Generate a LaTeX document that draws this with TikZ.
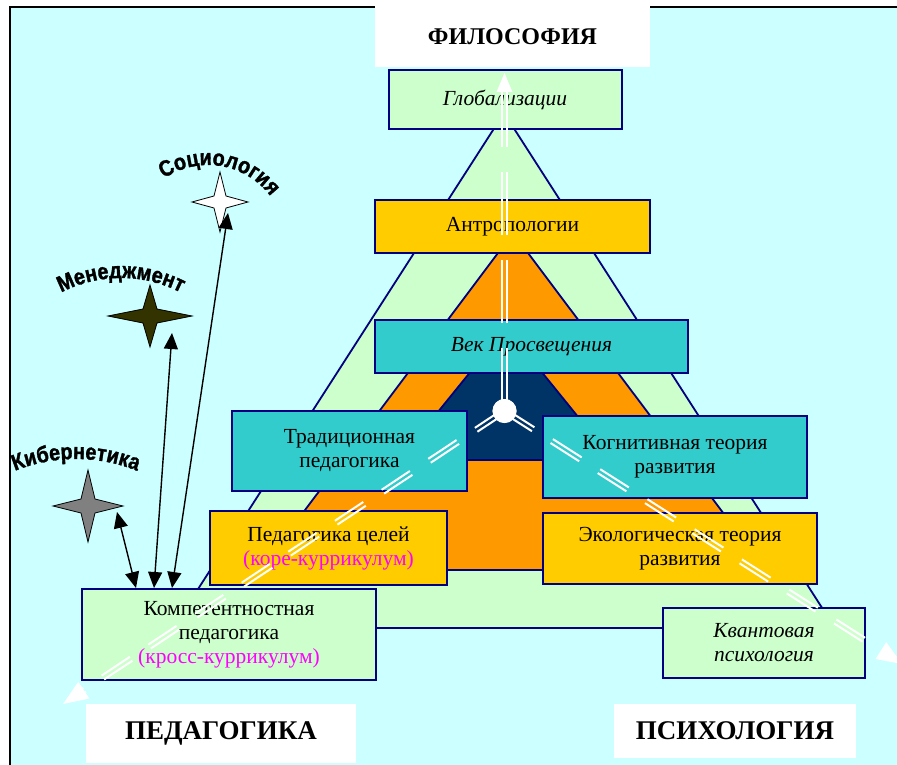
\documentclass[tikz,border=0pt]{standalone}
\usepackage{fontspec}
\setmainfont{Liberation Serif}
\newfontfamily\artfont[FakeBold=1.4, FakeStretch=0.88]{Liberation Sans}
\usetikzlibrary{calc,arrows.meta,decorations.text}

\definecolor{skyfon}{HTML}{CCFFFF}
\definecolor{lgreen}{HTML}{CCFFCC}
\definecolor{gold}{HTML}{FFCC00}
\definecolor{orng}{HTML}{FF9900}
\definecolor{tealbox}{HTML}{33CCCC}
\definecolor{deepnavy}{HTML}{003366}
\definecolor{rim}{HTML}{000080}
\definecolor{olivestar}{HTML}{333300}
\definecolor{pinktext}{HTML}{FF00FF}

\newcommand{\boxfont}{\fontsize{21.5}{24}\selectfont}
\newcommand{\tagfont}{\fontsize{27}{30}\selectfont\bfseries}
\newcommand{\artsize}{\artfont\bfseries\fontsize{22.5}{23}\selectfont}

% star with four points: centre, half width, half height, inner, fill
\newcommand{\fourstar}[5]{%
  \draw[star, fill=#5, shift={(#1)}] (0,-#3) -- (#4,-#4) -- (#2,0) -- (#4,#4)
    -- (0,#3) -- (-#4,#4) -- (-#2,0) -- (-#4,-#4) -- cycle;}
% white double line: from, to, dash pattern
\newcommand{\spoke}[3]{%
  \draw[spoke, dash pattern=#3] ($(#1)!2.3pt!90:(#2)$) -- ($(#2)!2.3pt!-90:(#1)$);
  \draw[spoke, dash pattern=#3] ($(#1)!2.3pt!-90:(#2)$) -- ($(#2)!2.3pt!90:(#1)$);}
% white head: tip, base, back point, half width
\newcommand{\spokehead}[4]{%
  \fill[white] (#1) -- ($(#2)!#4!90:(#3)$) -- ($(#2)!#4!-90:(#3)$) -- cycle;}

\begin{document}
\begin{tikzpicture}[x=1pt, y=-1pt,
  block/.style={draw=rim, line width=2pt, inner sep=0pt, align=center, font=\boxfont},
  tag/.style={fill=white, inner sep=0pt, font=\tagfont},
  layer/.style={draw=rim, line width=1.8pt, line join=round},
  spoke/.style={white, line width=2pt},
  star/.style={draw=black, line width=0.8pt, line join=miter},
  twohead/.style={black, line width=1.4pt, {Triangle[length=16pt,width=14pt]}-{Triangle[length=16pt,width=14pt]}},
  wordart/.style={decorate, decoration={text along path, text align=center, text={|\artsize|#1}}}]
\useasboundingbox (0,0) rectangle (897,765);
\clip (0,0) rectangle (897,765);
\fill[white] (0,0) rectangle (897,765);
\draw[black, line width=2pt, fill=skyfon] (10,7) rectangle (910,780);

% pyramid
\draw[layer, fill=lgreen] (504,113) -- (835,628) -- (173,628) -- cycle;
\draw[layer, fill=orng] (513,233) -- (766,570) -- (260,570) -- cycle;
\draw[layer, fill=deepnavy] (506,328) -- (613,460) -- (399,460) -- cycle;

% corner labels
\node[tag, minimum width=275, minimum height=61, font=\fontsize{24}{26}\selectfont\bfseries] (filo) at (512.5,37) {ФИЛОСОФИЯ};
\node[tag, minimum width=270, minimum height=59] (ped) at (221,733.5) {ПЕДАГОГИКА};
\node[tag, minimum width=242, minimum height=54] (psy) at (735,731) {ПСИХОЛОГИЯ};

% boxes
\node[block, fill=lgreen, minimum width=233, minimum height=59, font=\boxfont\itshape] (glob) at (505,99.5) {Глобализации};
\node[block, fill=gold, minimum width=275, minimum height=53] (antr) at (512.5,226.5) {Антропологии};
\node[block, fill=tealbox, minimum width=313, minimum height=53, font=\boxfont\itshape] (vek) at (531.5,346.5) {Век Просвещения};
\node[block, fill=tealbox, minimum width=235, minimum height=80] (trad) at (349.5,451) {Традиционная\\педагогика};
\node[block, fill=tealbox, minimum width=264, minimum height=82] (kogn) at (675,457) {Когнитивная теория\\развития};
\node[block, fill=gold, minimum width=237, minimum height=74] (cel) at (328.5,548) {Педагогика целей\\\textcolor{pinktext}{(коре-куррикулум)}};
\node[block, fill=gold, minimum width=274, minimum height=71] (ekol) at (680,548.5) {Экологическая теория\\развития};
\node[block, fill=lgreen, minimum width=294, minimum height=91] (komp) at (229,634.5) {Компетентностная\\педагогика\\\textcolor{pinktext}{(кросс-куррикулум)}};
\node[block, fill=lgreen, minimum width=202, minimum height=70, font=\boxfont\itshape] (kvant) at (764,643) {Квантовая\\психология};

% stars with their names
\coordinate (soc) at (220,202);
\coordinate (men) at (150,316);
\coordinate (kib) at (88,506);
\fourstar{soc}{28}{30}{6}{white}
\fourstar{men}{42}{31}{7}{olivestar}
\fourstar{kib}{35}{36}{7}{gray}
\coordinate (socarc) at (208,243);
\coordinate (menarc) at (121,408);
\coordinate (kibarc) at (76,622);
\path[wordart=Социология] ($(socarc)+(-150.5:78)$) arc[start angle=-150.5, end angle=-10.5, radius=78];
\path[wordart=Менеджмент] ($(menarc)+(-140:130)$) arc[start angle=-140, end angle=-40, radius=130];
\path[wordart=Кибернетика] ($(kibarc)+(-125:163)$) arc[start angle=-125, end angle=-55, radius=163];

\coordinate (kibend) at (117,512);
\coordinate (menend) at (172,333);
\coordinate (socend) at (228,213);
\draw[twohead] ([shift={(55,0)}]komp.north west) -- (kibend);
\draw[twohead] ([shift={(73,0)}]komp.north west) -- (menend);
\draw[twohead] ([shift={(91,0)}]komp.north west) -- (socend);

% white double arrows from the centre
\node[circle, fill=white, minimum size=24, inner sep=0pt] (hub) at (504.5,411) {};
\coordinate (tipF) at (504.5,73);
\coordinate (tipP) at (63,704);
\coordinate (tipS) at (902,664);
\coordinate (baseF) at ($(tipF)!19pt!(hub.center)$);
\coordinate (baseP) at ($(tipP)!25pt!(hub.center)$);
\coordinate (baseS) at ($(tipS)!25pt!(hub.center)$);
\spoke{hub.center}{baseF}{on 63pt off 25pt}
\spoke{hub.center}{baseP}{on 34pt off 22pt}
\spoke{hub.center}{baseS}{on 34pt off 22pt}
\spokehead{tipF}{baseF}{hub.center}{8pt}
\spokehead{tipP}{baseP}{hub.center}{10pt}
\spokehead{tipS}{baseS}{hub.center}{10pt}
\fill[white] (hub) circle (12);
\end{tikzpicture}
\end{document}
